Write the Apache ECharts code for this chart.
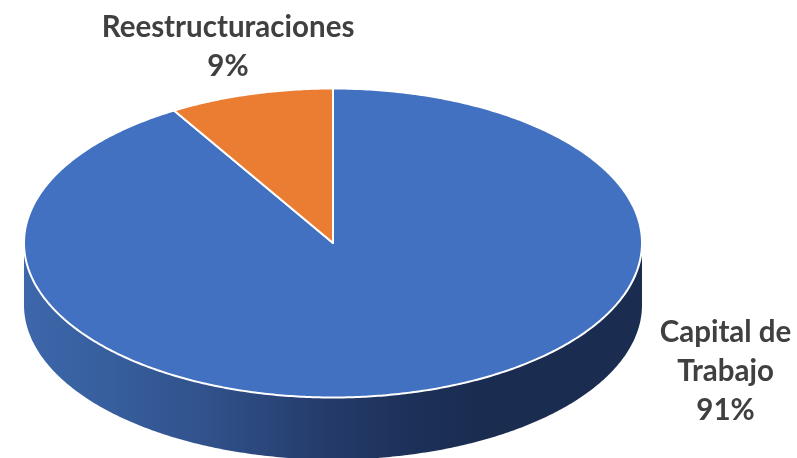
<!DOCTYPE html>
<html>
<head>
<meta charset="utf-8">
<style>html,body{margin:0;padding:0;background:#fff}#c{width:797px;height:458px}</style>
<script src="https://cdn.jsdelivr.net/npm/echarts@6/dist/echarts.min.js"></script>
</head>
<body>
<div id="c"></div>
<script>
const categories = ['Capital de\nTrabajo', 'Reestructuraciones'];
const values = [91.4, 8.6];
const colors = ['#4271C1', '#EB7D32'];

const CX = 333, CY = 243, RX = 309, RY = 154.5, DEPTH = 62;
const labelPos = [[725.5, 371], [228, 46.5]];
const total = values.reduce((a, b) => a + b, 0);

function pt(a, dy) {
  return [CX + RX * Math.sin(a), CY - RY * Math.cos(a) + (dy || 0)];
}
function arc(a0, a1, dy) {
  const n = Math.max(2, Math.ceil(Math.abs(a1 - a0) / 0.01));
  const out = [];
  for (let i = 0; i <= n; i++) out.push(pt(a0 + (a1 - a0) * i / n, dy));
  return out;
}

const chart = echarts.init(document.getElementById('c'), null, {renderer: 'canvas'});
chart.setOption({
  animation: false,
  backgroundColor: '#fff',
  series: [
    {
      type: 'custom',
      coordinateSystem: 'none',
      silent: true,
      data: [[total]],
      renderItem: function () {
        const front = arc(Math.PI / 2, Math.PI * 1.5, 0);
        const back = arc(Math.PI * 1.5, Math.PI / 2, DEPTH);
        return {
          type: 'polygon',
          shape: {points: front.concat(back)},
          style: {
            fill: new echarts.graphic.LinearGradient(0, 0, 1, 0, [
              {offset: 0, color: '#3D67AB'},
              {offset: 0.13, color: '#375F9E'},
              {offset: 0.29, color: '#31528C'},
              {offset: 0.48, color: '#253C6C'},
              {offset: 0.62, color: '#1D3159'},
              {offset: 0.74, color: '#1A2C50'},
              {offset: 1, color: '#1A2C50'}
            ])
          }
        };
      }
    },
    {
      type: 'custom',
      coordinateSystem: 'none',
      silent: true,
      data: values.map(v => [v]),
      renderItem: function (params, api) {
        let before = 0;
        for (let i = 0; i < params.dataIndex; i++) before += values[i];
        const v = api.value(0);
        const a0 = before / total * Math.PI * 2;
        const a1 = (before + v) / total * Math.PI * 2;
        return {
          type: 'polygon',
          shape: {points: [[CX, CY]].concat(arc(a0, a1, 0))},
          style: {fill: colors[params.dataIndex], stroke: '#fff', lineWidth: 2, lineJoin: 'round'}
        };
      }
    },
    {
      type: 'custom',
      coordinateSystem: 'none',
      silent: true,
      data: values.map(v => [v]),
      renderItem: function (params, api) {
        const p = labelPos[params.dataIndex];
        return {
          type: 'text',
          x: p[0],
          y: p[1],
          style: {
            text: categories[params.dataIndex] + '\n' + Math.round(api.value(0) / total * 100) + '%',
            fill: '#404040',
            font: 'bold 29.5px Lato, "Open Sans", sans-serif',
            lineHeight: 39,
            align: 'center',
            verticalAlign: 'middle'
          }
        };
      }
    }
  ]
});
</script>
</body>
</html>
